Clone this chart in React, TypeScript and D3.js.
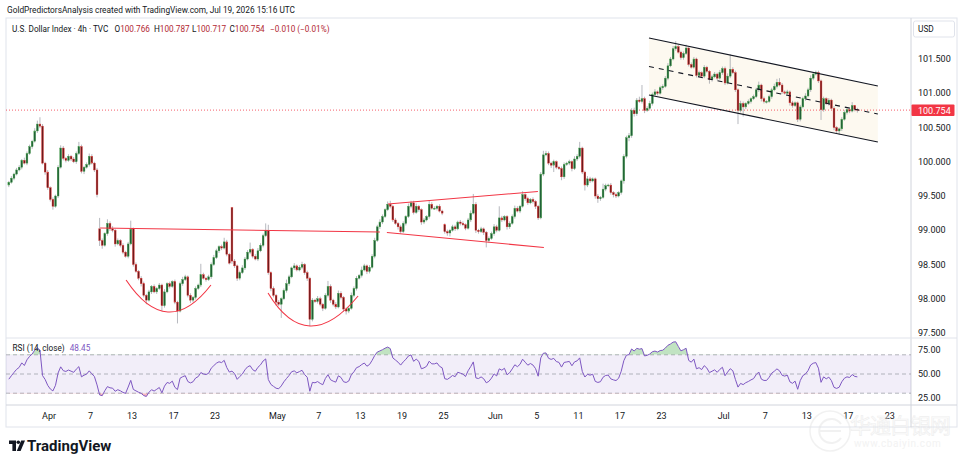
import React from 'react';
import * as d3 from 'd3';

// ---- data (4h bars, 4 per trading day) ----
const firstOpen = 99.66;

// closes, one row per trading day (Mar 26 .. Jul 17)
const closes = [
  99.70, 99.76, 99.82, 99.88,
  99.92, 100.02, 99.98, 100.12,
  100.22, 100.30, 100.45, 100.55,
  100.52, 99.98, 99.85, 99.62,
  99.45, 99.35, 99.50, 99.92,
  100.20, 100.05, 100.02, 100.08,
  100.04, 100.00, 100.12, 100.22,
  99.86, 99.92, 99.96, 100.08,
  99.98, 99.88, 99.52, 98.85,
  98.78, 98.95, 99.10, 99.02,
  99.00, 98.80, 98.85, 98.78,
  98.68, 98.62, 98.80, 99.02,
  98.50, 98.40, 98.30, 98.22,
  98.05, 97.98, 98.10, 98.18,
  98.10, 98.15, 98.20, 97.90,
  98.10, 98.22, 98.18, 98.25,
  97.95, 97.82, 98.22, 98.28,
  98.32, 98.05, 97.98, 98.02,
  98.15, 98.20, 98.35, 98.30,
  98.28, 98.32, 98.50, 98.60,
  98.70, 98.76, 98.74, 98.83,
  98.65, 98.52, 98.55, 98.48,
  98.30, 98.38, 98.45, 98.58,
  98.68, 98.72, 98.62, 98.58,
  98.70, 98.78, 98.92, 99.00,
  98.38, 98.15, 98.05, 97.95,
  97.92, 98.00, 98.12, 98.22,
  98.32, 98.45, 98.48, 98.42,
  98.46, 98.50, 98.38, 98.30,
  97.70, 97.98, 97.96, 98.00,
  97.92, 97.86, 98.05, 98.18,
  97.98, 97.92, 97.88, 98.08,
  98.02, 97.85, 97.82, 97.86,
  98.05, 98.15, 98.30, 98.34,
  98.42, 98.48, 98.40, 98.46,
  98.62, 98.85, 99.05, 99.12,
  99.20, 99.30, 99.38, 99.35,
  99.15, 99.10, 99.05, 98.98,
  99.10, 99.20, 99.35, 99.40,
  99.26, 99.35, 99.30, 99.12,
  99.15, 99.20, 99.38, 99.32,
  99.32, 99.35, 99.28, 99.25,
  98.98, 98.96, 99.00, 99.05,
  99.02, 99.12, 99.10, 99.08,
  99.03, 99.15, 99.25, 99.38,
  99.00, 98.98, 99.02, 98.97,
  98.85, 98.88, 98.95, 99.05,
  99.00, 99.18, 99.15, 99.20,
  99.05, 99.10, 99.20, 99.32,
  99.28, 99.35, 99.52, 99.46,
  99.40, 99.45, 99.42, 99.35,
  99.18, 99.82, 100.10, 100.12,
  99.98, 99.95, 100.00, 99.92,
  99.90, 99.78, 99.96, 99.98,
  100.00, 99.90, 100.04, 100.08,
  100.20, 99.85, 99.66, 99.75,
  99.72, 99.75, 99.50, 99.46,
  99.48, 99.60, 99.65, 99.66,
  99.55, 99.52, 99.50, 99.55,
  99.72, 100.08, 100.35, 100.38,
  100.75, 100.70, 100.90, 100.88,
  100.92, 100.75, 100.78, 100.85,
  100.98, 101.02, 101.00, 101.08,
  101.10, 101.22, 101.40, 101.50,
  101.65, 101.68, 101.60, 101.52,
  101.58, 101.66, 101.42, 101.38,
  101.50, 101.26, 101.30, 101.25,
  101.38, 101.32, 101.20, 101.24,
  101.28, 101.22, 101.30, 101.36,
  101.15, 101.25, 101.35, 101.30,
  101.05, 100.75, 100.85, 100.80,
  100.85, 100.88, 100.92, 100.95,
  101.05, 101.12, 100.92, 100.88,
  100.88, 100.95, 101.05, 101.10,
  101.16, 101.12, 101.02, 101.00,
  101.02, 100.86, 100.82, 100.86,
  100.62, 100.80, 100.92, 100.96,
  101.05, 101.22, 101.28, 101.30,
  101.18, 100.76, 100.92, 100.85,
  100.90, 100.78, 100.50, 100.45,
  100.48, 100.62, 100.72, 100.76,
  100.74, 100.82, 100.766, 100.754,
];

// upper / lower wick length beyond the body, in hundredths
const wickUp = [
  2, 3, 2, 3,  3, 2, 4, 3,  3, 2, 4, 5,  10, 3, 2, 3,  2, 3, 2, 3,
  4, 3, 2, 3,  2, 3, 3, 7,  3, 2, 3, 4,  3, 2, 3, 16,  3, 2, 6, 3,
  4, 2, 3, 2,  3, 2, 3, 12,  2, 3, 2, 3,  3, 2, 3, 2,  3, 2, 3, 2,
  4, 2, 3, 2,  3, 2, 3, 4,  3, 2, 3, 2,  3, 2, 16, 3,  2, 3, 3, 4,
  3, 2, 3, 6,  3, 2, 1, 3,  2, 3, 4, 3,  3, 10, 2, 3,  4, 3, 3, 10,
  8, 2, 3, 2,  3, 2, 3, 6,  3, 2, 4, 2,  3, 4, 2, 3,  2, 3, 2, 4,
  3, 2, 3, 8,  3, 2, 3, 4,  3, 2, 2, 3,  4, 3, 3, 2,  5, 3, 2, 3,
  3, 4, 3, 4,  3, 2, 4, 5,  2, 3, 2, 3,  3, 2, 4, 3,  3, 4, 2, 2,
  3, 2, 6, 3,  3, 2, 3, 2,  2, 3, 2, 3,  3, 2, 3, 3,  2, 3, 4, 15,
  3, 2, 3, 2,  2, 3, 3, 4,  3, 17, 3, 2,  2, 3, 3, 4,  3, 2, 5, 2,
  3, 2, 3, 2,  2, 3, 6, 4,  3, 2, 3, 2,  2, 3, 3, 2,  3, 2, 4, 3,
  9, 2, 2, 4,  3, 2, 2, 3,  2, 8, 3, 2,  3, 2, 3, 2,  2, 3, 3, 4,
  3, 4, 3, 5,  20, 3, 3, 4,  3, 4, 2, 3,  3, 3, 4, 3,  4, 8, 3, 2,
  3, 5, 2, 3,  3, 2, 3, 2,  3, 2, 2, 3,  3, 2, 4, 3,  3, 4, 22, 3,
  3, 2, 4, 3,  2, 3, 2, 3,  3, 5, 2, 3,  2, 3, 3, 4,  5, 6, 3, 2,
  3, 2, 3, 2,  2, 3, 3, 4,  3, 4, 3, 3,  3, 2, 3, 2,  3, 2, 3, 2,
  2, 3, 3, 2,  3, 5, 1, 2.1,
];
const wickDn = [
  3, 2, 3, 2,  2, 3, 2, 3,  2, 3, 2, 3,  3, 2, 4, 3,  3, 5, 2, 3,
  2, 3, 3, 2,  3, 2, 3, 2,  3, 4, 2, 3,  2, 3, 4, 8,  5, 2, 3, 3,
  3, 4, 2, 3,  3, 2, 3, 2,  3, 2, 3, 4,  3, 6, 2, 3,  2, 3, 2, 8,
  3, 2, 3, 2,  3, 18, 2, 3,  2, 3, 4, 3,  3, 2, 3, 2,  3, 2, 3, 2,
  2, 3, 3, 2,  3, 2, 4, 3,  4, 3, 2, 3,  2, 3, 3, 2,  3, 2, 3, 2,
  3, 4, 3, 5,  3, 20, 2, 3,  3, 2, 3, 2,  2, 3, 3, 4,  10, 3, 2, 3,
  3, 4, 2, 3,  4, 3, 3, 2,  3, 4, 5, 3,  2, 3, 3, 2,  3, 2, 4, 3,
  2, 3, 2, 3,  3, 2, 2, 3,  3, 2, 4, 3,  2, 3, 2, 3,  3, 2, 3, 4,
  3, 2, 3, 2,  2, 3, 2, 3,  3, 4, 5, 2,  3, 2, 3, 2,  3, 2, 3, 2,
  4, 3, 2, 4,  10, 3, 2, 3,  3, 2, 3, 2,  4, 3, 2, 3,  2, 3, 2, 3,
  3, 2, 3, 4,  3, 2, 3, 2,  3, 4, 10, 3,  2, 5, 3, 2,  3, 4, 2, 3,
  3, 3, 8, 3,  3, 2, 4, 6,  3, 2, 3, 2,  3, 4, 3, 2,  3, 4, 3, 5,
  3, 4, 3, 2,  3, 4, 2, 3,  3, 2, 3, 2,  3, 2, 3, 2,  2, 3, 2, 3,
  3, 2, 3, 2,  2, 3, 2, 3,  3, 2, 6, 3,  2, 3, 2, 3,  3, 2, 3, 2,
  3, 20, 3, 14,  3, 2, 3, 2,  2, 3, 4, 3,  3, 2, 3, 2,  3, 2, 3, 2,
  3, 4, 3, 2,  4, 3, 2, 3,  2, 3, 3, 2,  3, 15, 3, 2,  3, 2, 4, 3,
  6, 3, 2, 3,  3, 2, 3, 3.7,
];

// bars that opened away from the previous close: [bar index, open]
const gapOpens: [number, number][] = [[35, 99.02], [86, 99.33], [168, 99.08]];

// closes before the visible range, only used to warm up RSI(14)
const warmupCloses = [99.80, 99.72, 99.78, 99.70, 99.64, 99.70, 99.62, 99.68, 99.75, 99.66, 99.60, 99.68, 99.62, 99.65];

// time axis: trading-day index (0 = Mar 26) and label
const timeTickDays = [4, 8, 12, 16, 20, 26, 30, 34, 38, 42, 47, 51, 55, 59, 63, 69, 73, 77, 81, 85];
const timeTickLabels = ['Apr', '7', '13', '17', '23', 'May', '7', '13', '19', '25', 'Jun', '5', '11', '17', '23', 'Jul', '7', '13', '17', '23'];

const priceTicks = [97.5, 98, 98.5, 99, 99.5, 100, 100.5, 101, 101.5];
const rsiTicks = [25, 50, 75];
const rsiLevels = [70, 50, 30];

const lastClose = 100.754;
const rsiLast = '48.45';

// drawings, anchors as [bar index, price]
const neckline: [number, number][] = [[35.2, 99.033], [143.0, 98.974]];
const cupLeft: [number, number][] = [[45.2, 98.274], [61.3, 97.807], [77.9, 98.201]];
const cupRight: [number, number][] = [[99.9, 98.084], [116.1, 97.602], [134.6, 98.04]];
const wedgeTop: [number, number][] = [[146.1, 99.383], [203.9, 99.566]];
const wedgeBottom: [number, number][] = [[145.7, 98.967], [206.2, 98.748]];
const channelTop: [number, number][] = [[246.7, 101.807], [334.9, 101.106]];
const channelBottom: [number, number][] = [[246.7, 100.974], [334.9, 100.288]];

const FONT = 'Roboto, "Liberation Sans", sans-serif';
const UP_BODY = '#215f38';
const UP_EDGE = '#43a047';
const DN_BODY = '#6e1a1c';
const DN_EDGE = '#e53935';
const RED = '#f23645';

interface Candle { i: number; o: number; h: number; l: number; c: number; }

function computeRsi(values: number[], warm: number[], period: number) {
  const all = [...warm, ...values];
  let gain = 0, loss = 0;
  for (let k = 1; k <= period; k++) {
    const d = all[k] - all[k - 1];
    if (d > 0) gain += d; else loss -= d;
  }
  gain /= period;
  loss /= period;
  const out: number[] = [];
  for (let k = period; k < all.length; k++) {
    if (k > period) {
      const d = all[k] - all[k - 1];
      gain = (gain * (period - 1) + Math.max(d, 0)) / period;
      loss = (loss * (period - 1) + Math.max(-d, 0)) / period;
    }
    out.push(loss === 0 ? 100 : 100 - 100 / (1 + gain / loss));
  }
  return out;
}

export default function App() {
  const left = 6, right = 911, top = 18, paneSep = 338, axisTop = 405, bottom = 427, outerRight = 957;

  const gapMap = new Map(gapOpens);
  const candles: Candle[] = closes.map((c, i) => {
    const o = gapMap.has(i) ? gapMap.get(i)! : (i === 0 ? firstOpen : closes[i - 1]);
    return { i, o, c, h: Math.max(o, c) + wickUp[i] / 100, l: Math.min(o, c) - wickDn[i] / 100 };
  });

  const step = 2.595;
  const x = d3.scaleLinear().domain([-0.5, closes.length - 0.5]).range([7.5, 7.5 + step * closes.length]);
  const y = d3.scaleLinear().domain([97.5, 101.5]).range([333, 59]);
  const ry = d3.scaleLinear().domain([25, 75]).range([398, 350]);
  const dayX = (d: number) => x(d * 4 - 0.5);
  const pt = (p: [number, number]) => [x(p[0]), y(p[1])] as [number, number];

  const rsi = computeRsi(closes, warmupCloses, 14);
  const rsiLine = d3.line<number>().x((_, i) => x(i)).y(r => ry(r));
  const obArea = d3.area<number>().x((_, i) => x(i)).y0(ry(70)).y1(r => ry(r));
  const osArea = d3.area<number>().x((_, i) => x(i)).y0(ry(30)).y1(r => ry(r));

  // arc through three anchors: quadratic whose midpoint hits the middle anchor
  const arcPath = (pts: [number, number][]) => {
    const [a, m, b] = pts.map(pt);
    const cx = 2 * m[0] - (a[0] + b[0]) / 2;
    const cy = 2 * m[1] - (a[1] + b[1]) / 2;
    return `M${a[0]},${a[1]} Q${cx},${cy} ${b[0]},${b[1]}`;
  };
  const seg = (pts: [number, number][]) => d3.line()(pts.map(pt)) as string;

  const ct = channelTop.map(pt), cb = channelBottom.map(pt);
  const mid = [0, 1].map(k => [ct[k][0], (ct[k][1] + cb[k][1]) / 2]);

  return (
    <svg width={964} height={466} style={{ position: 'absolute', left: 0, top: 0, background: '#fff' }} fontFamily={FONT}>
      <defs>
        <clipPath id="mainClip"><rect x={left} y={top} width={right - left} height={paneSep - top} /></clipPath>
        <clipPath id="obClip"><rect x={left} y={paneSep} width={right - left} height={ry(70) - paneSep} /></clipPath>
        <clipPath id="osClip"><rect x={left} y={ry(30)} width={right - left} height={axisTop - ry(30)} /></clipPath>
      </defs>

      {/* header */}
      <text x={7} y={12.5} fontSize={8.3} fill="#131722">GoldPredictorsAnalysis created with TradingView.com, Jul 19, 2026 15:16 UTC</text>

      {/* frame */}
      <rect x={left} y={top} width={outerRight - left} height={bottom - top} fill="none" stroke="#e0e3eb" />
      <line x1={right} x2={right} y1={top} y2={bottom} stroke="#d1d4dc" />
      <line x1={left} x2={outerRight} y1={paneSep} y2={paneSep} stroke="#e0e3eb" />
      <line x1={left} x2={outerRight} y1={axisTop} y2={axisTop} stroke="#d1d4dc" />

      {/* channel */}
      <g clipPath="url(#mainClip)">
        <path d={`M${ct[0][0]},${ct[0][1]} L${ct[1][0]},${ct[1][1]} L${cb[1][0]},${cb[1][1]} L${cb[0][0]},${cb[0][1]} Z`} fill="#fdf7ec" opacity={0.8} />
      </g>

      {/* last price line */}
      <line x1={left} x2={right} y1={y(lastClose)} y2={y(lastClose)} stroke={RED} strokeDasharray="1,2" strokeWidth={0.8} />

      {/* candles */}
      <g clipPath="url(#mainClip)">
        {candles.map(d => {
          const cx = x(d.i);
          const upBar = d.c >= d.o;
          const yt = y(Math.max(d.o, d.c));
          const h = Math.max(0.8, Math.abs(y(d.o) - y(d.c)));
          return (
            <g key={d.i}>
              <line x1={cx} x2={cx} y1={y(d.h)} y2={y(d.l)} stroke="#a3a6ad" strokeWidth={0.8} />
              <rect x={cx - 0.9} y={yt} width={1.8} height={h} fill={upBar ? UP_BODY : DN_BODY} stroke={upBar ? UP_EDGE : DN_EDGE} strokeWidth={0.4} />
            </g>
          );
        })}
      </g>

      {/* drawings */}
      <g clipPath="url(#mainClip)" fill="none">
        <path d={seg(neckline)} stroke={RED} strokeWidth={1.1} />
        <path d={arcPath(cupLeft)} stroke={RED} strokeWidth={1.1} />
        <path d={arcPath(cupRight)} stroke={RED} strokeWidth={1.1} />
        <path d={seg(wedgeTop)} stroke={RED} strokeWidth={1.1} />
        <path d={seg(wedgeBottom)} stroke={RED} strokeWidth={1.1} />
        <path d={d3.line()(ct) as string} stroke="#131722" strokeWidth={1.1} />
        <path d={d3.line()(cb) as string} stroke="#131722" strokeWidth={1.1} />
        <path d={d3.line()(mid as [number, number][]) as string} stroke="#131722" strokeWidth={1.1} strokeDasharray="5,5" />
      </g>

      {/* legend */}
      <text y={32} fontSize={8.2} fill="#131722">
        <tspan x={12}>U.S. Dollar Index · 4h · TVC</tspan>
        <tspan x={114.5}>O</tspan><tspan fill="#b22833">100.766</tspan>
        <tspan x={154}>H</tspan><tspan fill="#b22833">100.787</tspan>
        <tspan x={192}>L</tspan><tspan fill="#b22833">100.717</tspan>
        <tspan x={229.5}>C</tspan><tspan fill="#b22833">100.754</tspan>
        <tspan x={270} fill="#b22833">−0.010 (−0.01%)</tspan>
      </text>

      {/* price axis */}
      <rect x={913.5} y={21} width={41} height={16} rx={2} fill="#fff" stroke="#e0e3eb" />
      <text x={918} y={32} fontSize={8.3} fill="#131722">USD</text>
      {priceTicks.map(p => (
        <text key={p} x={918} y={y(p) + 3.2} fontSize={9} fill="#131722">{d3.format('.3f')(p)}</text>
      ))}
      <rect x={911.5} y={y(lastClose) - 5.6} width={43} height={11.4} rx={1} fill={RED} />
      <text x={918} y={y(lastClose) + 3.4} fontSize={9} fill="#fff">{d3.format('.3f')(lastClose)}</text>

      {/* RSI pane */}
      <rect x={left} y={ry(70)} width={right - left} height={ry(30) - ry(70)} fill="rgba(126,87,194,0.1)" />
      {rsiLevels.map(l => (
        <line key={l} x1={left} x2={right} y1={ry(l)} y2={ry(l)} stroke="#9598a1" strokeWidth={0.7} strokeDasharray="4,3" />
      ))}
      <path d={obArea(rsi) as string} clipPath="url(#obClip)" fill="rgba(76,175,80,0.35)" />
      <path d={osArea(rsi) as string} clipPath="url(#osClip)" fill="rgba(242,54,69,0.35)" />
      <path d={rsiLine(rsi) as string} fill="none" stroke="#7e57c2" strokeWidth={1} />
      <text x={12.5} y={351} fontSize={8.2} fill="#131722">RSI (14, close)<tspan dx={5} fill="#7e57c2">{rsiLast}</tspan></text>
      {rsiTicks.map(t => (
        <text key={t} x={918} y={ry(t) + 3.2} fontSize={9} fill="#131722">{d3.format('.2f')(t)}</text>
      ))}

      {/* time axis */}
      {timeTickDays.map((d, k) => (
        <text key={k} x={dayX(d)} y={419} fontSize={9} fill="#131722" textAnchor="middle">{timeTickLabels[k]}</text>
      ))}

      {/* watermark */}
      <g opacity={0.45}>
        <circle cx={830} cy={431} r={20} fill="none" stroke="#e2e2e2" strokeWidth={1.5} />
        <path d="M841,424 A12,12 0 1 0 841,438 M819,431 H841" fill="none" stroke="#e2e2e2" strokeWidth={2} />
        <text x={850} y={433} fontSize={21} fill="#fafafa" stroke="#dcdcdc" strokeWidth={0.7} fontFamily='"Noto Sans CJK SC", sans-serif' letterSpacing={-1}>华通白银网</text>
        <text x={854} y={447} fontSize={10} fill="#e4e4e4" letterSpacing={0.6}>www.cbaiyin.com</text>
      </g>

      {/* TradingView logo */}
      <g fill="#131722">
        <path d="M9,440.5 H16 V451 H12.4 V444 H9 Z" />
        <circle cx={18.3} cy={442.3} r={1.8} />
        <path d="M21.2,440.5 H25 L20.6,451 H16.8 Z" />
        <text x={27} y={450.5} fontSize={15} fontWeight={700}>TradingView</text>
      </g>
    </svg>
  );
}
